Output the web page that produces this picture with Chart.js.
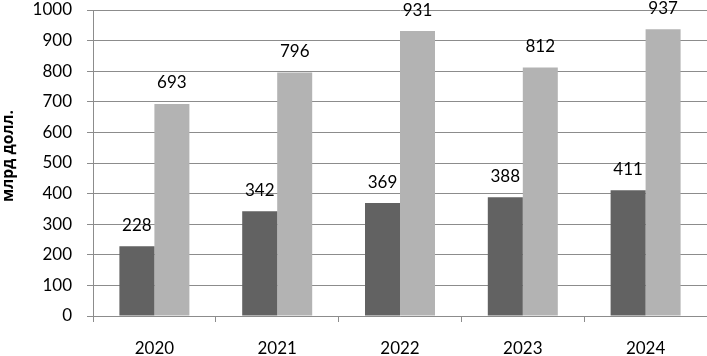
<!DOCTYPE html>
<html><head><meta charset="utf-8">
<script src="https://cdn.jsdelivr.net/npm/chart.js@4"></script>
<style>html,body{margin:0;padding:0;background:#fff;}#wrap{width:707px;height:356px;}</style>
</head><body><div id="wrap"><canvas id="c" width="707" height="356"></canvas></div>
<script>
const categories = ["2020", "2021", "2022", "2023", "2024"];
const seriesDark = [228, 342, 369, 388, 411];
const seriesLight = [693, 796, 931, 812, 937];
const yTicks = [0, 100, 200, 300, 400, 500, 600, 700, 800, 900, 1000];
const yTitle = "млрд долл.";

const FONT = "Lato";
const labelPlugin = {
  id: "vlabels",
  afterDatasetsDraw(chart) {
    const ctx = chart.ctx;
    ctx.save();
    ctx.font = "17px " + FONT;
    ctx.fillStyle = "#000";
    ctx.textAlign = "center";
    ctx.textBaseline = "middle";
    chart.data.datasets.forEach((ds, i) => {
      chart.getDatasetMeta(i).data.forEach((bar, j) => {
        ctx.fillText(String(ds.data[j]), bar.x, bar.y - 21);
      });
    });
    ctx.restore();
  }
};
const titlePlugin = {
  id: "ytitle",
  afterDraw(chart) {
    const ctx = chart.ctx;
    ctx.save();
    ctx.font = "bold 16px 'Open Sans'";
    const w = ctx.measureText(yTitle).width;
    const size = Math.min(18, 16 * 92 / w);
    ctx.font = "bold " + size.toFixed(1) + "px 'Open Sans'";
    ctx.translate(9, 156);
    ctx.rotate(-Math.PI / 2);
    ctx.fillStyle = "#000";
    ctx.textAlign = "center";
    ctx.textBaseline = "middle";
    ctx.fillText(yTitle, 0, 0);
    ctx.restore();
  }
};

new Chart(document.getElementById("c"), {
  type: "bar",
  data: {
    labels: categories,
    datasets: [
      { data: seriesDark, backgroundColor: "#626262", categoryPercentage: 0.57, barPercentage: 1 },
      { data: seriesLight, backgroundColor: "#b3b3b3", categoryPercentage: 0.57, barPercentage: 1 }
    ]
  },
  options: {
    responsive: false,
    animation: false,
    events: [],
    layout: { padding: 0 },
    plugins: { legend: { display: false }, tooltip: { enabled: false } },
    scales: {
      x: {
        afterFit(s) { s.height = 40; s.paddingLeft = 0; s.paddingRight = 0; },
        grid: { drawOnChartArea: false, drawTicks: true, tickLength: 6, color: "#8c8c8c", lineWidth: 1 },
        border: { color: "#8c8c8c", width: 1 },
        ticks: { font: { family: FONT, size: 17 }, color: "#000", padding: 16 }
      },
      y: {
        min: 0, max: 1000,
        afterFit(s) { s.width = 93; s.paddingTop = 10; s.paddingBottom = 0; },
        afterBuildTicks(s) { s.ticks = yTicks.map(v => ({ value: v })); },
        grid: { color: "#8c8c8c", lineWidth: 1, tickLength: 6 },
        border: { color: "#8c8c8c", width: 1 },
        ticks: { font: { family: FONT, size: 17 }, color: "#000", padding: 15, callback: (v) => String(v) }
      }
    }
  },
  plugins: [labelPlugin, titlePlugin]
});
</script></body></html>
